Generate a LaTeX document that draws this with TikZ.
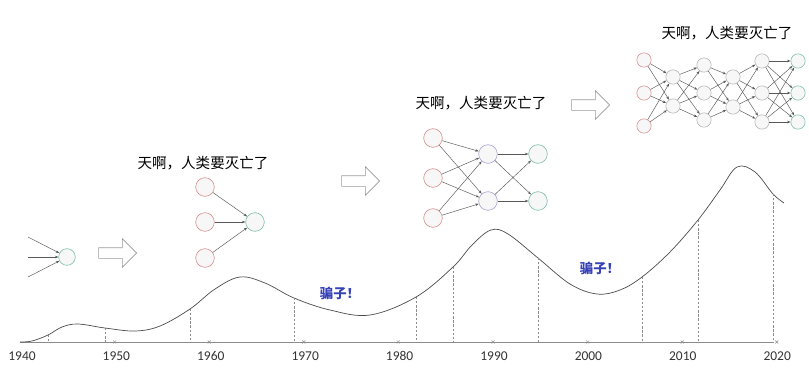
\documentclass[tikz,border=0pt]{standalone}
\usepackage{fontspec}
\setmainfont{Carlito}
\newfontfamily\cjk{Noto Sans CJK SC}
\usetikzlibrary{positioning,arrows.meta,shapes.arrows}
\definecolor{inred}{RGB}{214,140,140}
\definecolor{outgreen}{RGB}{120,190,160}
\definecolor{hidpurple}{RGB}{165,160,205}
\definecolor{hidgray}{RGB}{178,178,178}
\definecolor{liarblue}{RGB}{55,66,185}
\tikzset{
  neuron/.style={circle, draw=#1, fill=black!3, line width=0.5pt, minimum size=5.6mm, inner sep=0pt},
  smallneuron/.style={neuron=#1, minimum size=4.3mm},
  conn/.style={->, draw=black!65, line width=0.4pt},
}

\begin{document}
\begin{tikzpicture}[
  x=0.3mm,y=-0.3mm,
  >={Stealth[length=3pt,width=2.2pt]},
  blockarrow/.style={single arrow, draw=black!40, fill=white, line width=0.5pt,
                     minimum height=11.4mm, single arrow head extend=2.7mm, inner sep=1.5mm},
  slogan/.style={font=\cjk\fontsize{12.4}{14}\selectfont, text=black},
  liar/.style={font=\cjk\bfseries\fontsize{11.4}{13}\selectfont, text=liarblue},
  year/.style={font=\fontsize{11.5}{13}\selectfont, text=black!80},
  trend/.style={draw=black!70, line width=0.6pt},
  guide/.style={draw=black!45, line width=0.4pt, dash pattern=on 2pt off 1.5pt}
]
  \useasboundingbox (0,0) rectangle (809,384);

  % axis and years
  \coordinate (axisL) at (20,342);
  \coordinate (axisR) at (774,342);
  \draw[draw=black!45, line width=0.6pt] (axisL) -- (axisR);
  \foreach \k/\yr in {0/1940,1/1950,2/1960,3/1970,4/1980,5/1990,6/2000,7/2010,8/2020} {
    \node[year] (yr\yr) at (22+94.4*\k,356) {\yr};
  }
  \foreach \k in {1,...,8} {
    \draw[draw=black!45, line width=0.4pt] (20+94.6*\k-1.5,340.5) -- (20+94.6*\k+1.5,343.5)
      (20+94.6*\k-1.5,343.5) -- (20+94.6*\k+1.5,340.5);
  }

  % trend curve
  \draw[trend] plot[smooth, tension=0.6] coordinates {
    (20,342) (32,341) (48,335) (62,327) (78,324) (105,328) (135,331) (160,326)
    (190,309) (215,289) (240,277) (265,283) (294,298) (330,310) (370,315)
    (416,297) (453,267) (472,245) (491,230) (508,234) (538,258) (570,284)
    (597,294) (620,290) (642,277) (670,252) (698,220) (720,190) (737,167) (755,172)
    (773,194) (784,203)};

  \foreach \gx/\gy [count=\g] in {48/335,105/328,190/309,294/298,416/297,453/267,538/258,642/277,698/220,773/194} {
    \coordinate (g\g) at (\gx,\gy);
    \draw[guide] (g\g) -- (g\g |- axisL);
  }

  \node[liar] (liar1) at (340,293) {骗子！};
  \node[liar] (liar2) at (600,268) {骗子！};

  % single neuron
  \node[neuron=outgreen, minimum size=5mm] (p1) at (67,257) {};
  \coordinate (x1) at (28,237);
  \coordinate (x2) at (28,257);
  \coordinate (x3) at (28,277);
  \foreach \i in {1,2,3} \draw[conn] (x\i) -- (p1);

  \node[blockarrow] (arr1) at (115,253) {};

  % perceptron
  \node[slogan] (txt1) at (203,163) {天啊，人类要灭亡了};
  \foreach \i/\y in {1/187,2/222,3/258} \node[neuron=inred] (sa\i) at (205,\y) {};
  \node[neuron=outgreen] (sb1) at (255,222) {};
  \foreach \i in {1,2,3} \draw[conn] (sa\i) -- (sb1);

  \node[blockarrow] (arr2) at (358,181) {};

  % one hidden layer
  \node[slogan] (txt2) at (481,103) {天啊，人类要灭亡了};
  \foreach \i/\y in {1/138,2/178,3/218} \node[neuron=inred] (ma\i) at (433,\y) {};
  \foreach \i/\y in {1/154,2/201} \node[neuron=hidpurple] (mb\i) at (488,\y) {};
  \foreach \i/\y in {1/154,2/201} \node[neuron=outgreen] (mc\i) at (538,\y) {};
  \foreach \i in {1,2,3} \foreach \j in {1,2} \draw[conn] (ma\i) -- (mb\j);
  \foreach \i in {1,2} \foreach \j in {1,2} \draw[conn] (mb\i) -- (mc\j);

  \node[blockarrow] (arr3) at (588,105) {};

  % deep network
  \node[slogan] (txt3) at (727,33) {天啊，人类要灭亡了};
  \foreach \i/\y in {1/60,2/93,3/126} \node[smallneuron=inred] (da\i) at (644,\y) {};
  \foreach \i/\y in {1/77,2/106} \node[smallneuron=hidgray] (db\i) at (673,\y) {};
  \foreach \i/\y in {1/65,2/93,3/120} \node[smallneuron=hidgray] (dc\i) at (704,\y) {};
  \foreach \i/\y in {1/77,2/107} \node[smallneuron=hidgray] (dd\i) at (733,\y) {};
  \foreach \i/\y in {1/61,2/93,3/122} \node[smallneuron=hidgray] (de\i) at (762,\y) {};
  \foreach \i/\y in {1/61,2/93,3/122} \node[smallneuron=outgreen] (df\i) at (798,\y) {};
  \foreach \i in {1,2,3} \foreach \j in {1,2} \draw[conn] (da\i) -- (db\j);
  \foreach \i in {1,2} \foreach \j in {1,2,3} \draw[conn] (db\i) -- (dc\j);
  \foreach \i in {1,2,3} \foreach \j in {1,2} \draw[conn] (dc\i) -- (dd\j);
  \foreach \i in {1,2} \foreach \j in {1,2,3} \draw[conn] (dd\i) -- (de\j);
  \foreach \i in {1,2,3} \foreach \j in {1,2,3} \draw[conn] (de\i) -- (df\j);
\end{tikzpicture}
\end{document}
